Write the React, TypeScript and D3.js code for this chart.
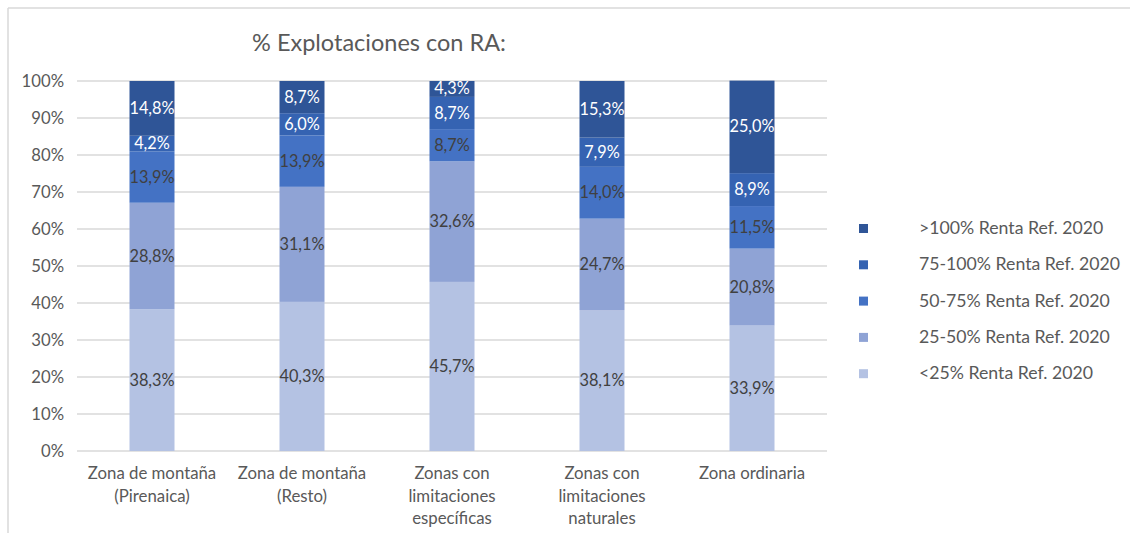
import React from "react";
import * as d3 from "d3";

const categories: string[][] = [
  ["Zona de montaña", "(Pirenaica)"],
  ["Zona de montaña", "(Resto)"],
  ["Zonas con", "limitaciones", "específicas"],
  ["Zonas con", "limitaciones", "naturales"],
  ["Zona ordinaria"],
];
const seriesNames = [
  "<25% Renta Ref. 2020",
  "25-50% Renta Ref. 2020",
  "50-75% Renta Ref. 2020",
  "75-100% Renta Ref. 2020",
  ">100% Renta Ref. 2020",
];
const below25 = [38.3, 40.3, 45.7, 38.1, 33.9];
const from25to50 = [28.8, 31.1, 32.6, 24.7, 20.8];
const from50to75 = [13.9, 13.9, 8.7, 14.0, 11.5];
const from75to100 = [4.2, 6.0, 8.7, 7.9, 8.9];
const above100 = [14.8, 8.7, 4.3, 15.3, 25.0];
const yTicks = [0, 10, 20, 30, 40, 50, 60, 70, 80, 90, 100];

const seriesValues = [below25, from25to50, from50to75, from75to100, above100];
const colors = ["#B4C2E3", "#8FA3D5", "#4472C4", "#3563B2", "#2F5597"];
const labelColors = ["#404040", "#404040", "#404040", "#FFFFFF", "#FFFFFF"];

const W = 1130;
const H = 533;
const FONT = "Lato, 'Open Sans', sans-serif";

export default function App() {
  const x = d3
    .scaleBand<number>()
    .domain(categories.map((_, i) => i))
    .range([77, 827])
    .paddingInner(0.7)
    .paddingOuter(0.35);
  const y = d3.scaleLinear().domain([0, 100]).range([451, 81]);

  const table = categories.map((_, i) => {
    const row: Record<string, number> = {};
    seriesNames.forEach((s, k) => (row[s] = seriesValues[k][i]));
    return row;
  });
  const stacked = d3.stack<Record<string, number>>().keys(seriesNames)(table);

  return (
    <svg
      width={W}
      height={H}
      style={{ position: "absolute", left: 0, top: 0, background: "#fff" }}
      fontFamily={FONT}
    >
      <rect x={0} y={0} width={W} height={H} fill="#fff" />
      <line x1={8} x2={W} y1={8} y2={8} stroke="#D9D9D9" strokeWidth={1.5} />
      <line x1={8} x2={8} y1={8} y2={H} stroke="#D9D9D9" strokeWidth={1.5} />
      <text x={379} y={51} textAnchor="middle" fontSize={23.5} fill="#595959">
        % Explotaciones con RA:
      </text>
      {yTicks.map((t) => (
        <g key={t}>
          <line x1={77} x2={827} y1={y(t)} y2={y(t)} stroke="#D9D9D9" strokeWidth={1.5} />
          <text x={64} y={y(t) + 5.5} textAnchor="end" fontSize={16.7} fill="#595959">
            {t}%
          </text>
        </g>
      ))}
      {stacked.map((layer, k) => (
        <g key={k}>
          {layer.map((d, i) => (
            <rect
              key={i}
              x={x(i)!}
              width={x.bandwidth()}
              y={y(d[1])}
              height={y(d[0]) - y(d[1])}
              fill={colors[k]}
            />
          ))}
          {layer.map((d, i) => (
            <text
              key={"t" + i}
              x={x(i)! + x.bandwidth() / 2}
              y={(y(d[0]) + y(d[1])) / 2 + 5.5}
              textAnchor="middle"
              fontSize={16.3}
              fill={labelColors[k]}
            >
              {seriesValues[k][i].toFixed(1).replace(".", ",")}%
            </text>
          ))}
        </g>
      ))}
      {categories.map((lines, i) => (
        <text key={i} textAnchor="middle" fontSize={16.8} fill="#595959">
          {lines.map((l, j) => (
            <tspan key={j} x={x(i)! + x.bandwidth() / 2} y={479 + j * 22.5}>
              {l}
            </tspan>
          ))}
        </text>
      ))}
      {seriesNames
        .map((s, k) => ({ s, k }))
        .reverse()
        .map(({ s, k }, r) => (
          <g key={s}>
            <rect x={859} y={224 + r * 36.3} width={9} height={9} fill={colors[k]} />
            <text x={919} y={234 + r * 36.3} fontSize={17.7} fill="#595959">
              {s}
            </text>
          </g>
        ))}
    </svg>
  );
}
